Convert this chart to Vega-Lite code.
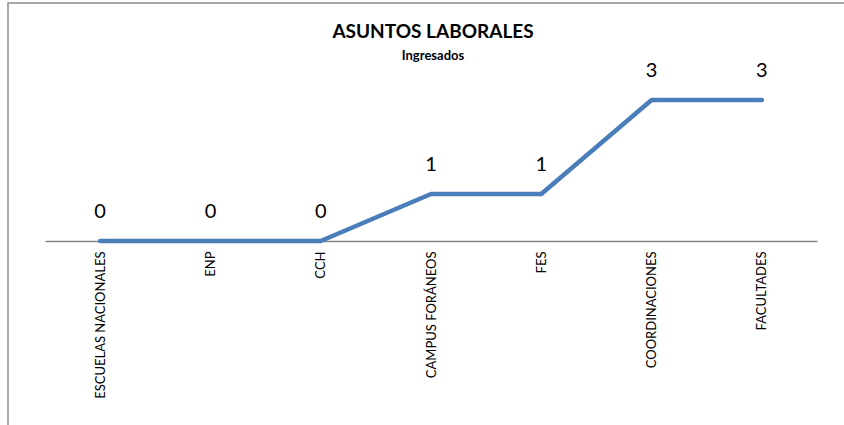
{
  "$schema": "https://vega.github.io/schema/vega-lite/v6.json",
  "autosize": "none",
  "width": 850,
  "height": 430,
  "padding": {"left": 8, "top": 3, "right": 0, "bottom": 0},
  "background": "white",
  "title": {
    "text": "ASUNTOS LABORALES",
    "subtitle": "Ingresados",
    "font": "Lato",
    "fontSize": 19,
    "fontWeight": "bold",
    "color": "#000000",
    "subtitleFont": "Lato",
    "subtitleFontSize": 13,
    "subtitleFontWeight": "bold",
    "subtitleColor": "#000000",
    "subtitlePadding": 8,
    "anchor": "middle",
    "offset": -60
  },
  "config": {
    "view": {"stroke": "#8c8c8c", "strokeWidth": 1.5},
    "font": "Lato"
  },
  "data": {
    "values": [
      {"categoria": "ESCUELAS NACIONALES", "valor": 0},
      {"categoria": "ENP", "valor": 0},
      {"categoria": "CCH", "valor": 0},
      {"categoria": "CAMPUS FORÁNEOS", "valor": 1},
      {"categoria": "FES", "valor": 1},
      {"categoria": "COORDINACIONES", "valor": 3},
      {"categoria": "FACULTADES", "valor": 3}
    ]
  },
  "encoding": {
    "x": {
      "field": "categoria",
      "type": "nominal",
      "sort": null,
      "scale": {"type": "point", "padding": 0.5, "range": [37, 809]},
      "axis": {
        "title": null,
        "offset": -192,
        "labelAngle": -90,
        "labelAlign": "right",
        "labelBaseline": "middle",
        "labelPadding": 10,
        "labelFontSize": 13,
        "labelFont": "Lato",
        "labelColor": "#000000",
        "ticks": false,
        "domainColor": "#868686",
        "domainWidth": 1.5,
        "grid": false
      }
    },
    "y": {
      "field": "valor",
      "type": "quantitative",
      "scale": {"domain": [0, 4], "range": [238, 50]},
      "axis": null
    }
  },
  "layer": [
    {
      "mark": {"type": "line", "color": "#4A7EBB", "strokeWidth": 4.5, "strokeCap": "round", "strokeJoin": "round"}
    },
    {
      "mark": {"type": "text", "fontSize": 20, "font": "Lato", "baseline": "alphabetic", "dy": -23, "color": "#000000"},
      "encoding": {"text": {"field": "valor", "type": "quantitative"}}
    }
  ]
}
